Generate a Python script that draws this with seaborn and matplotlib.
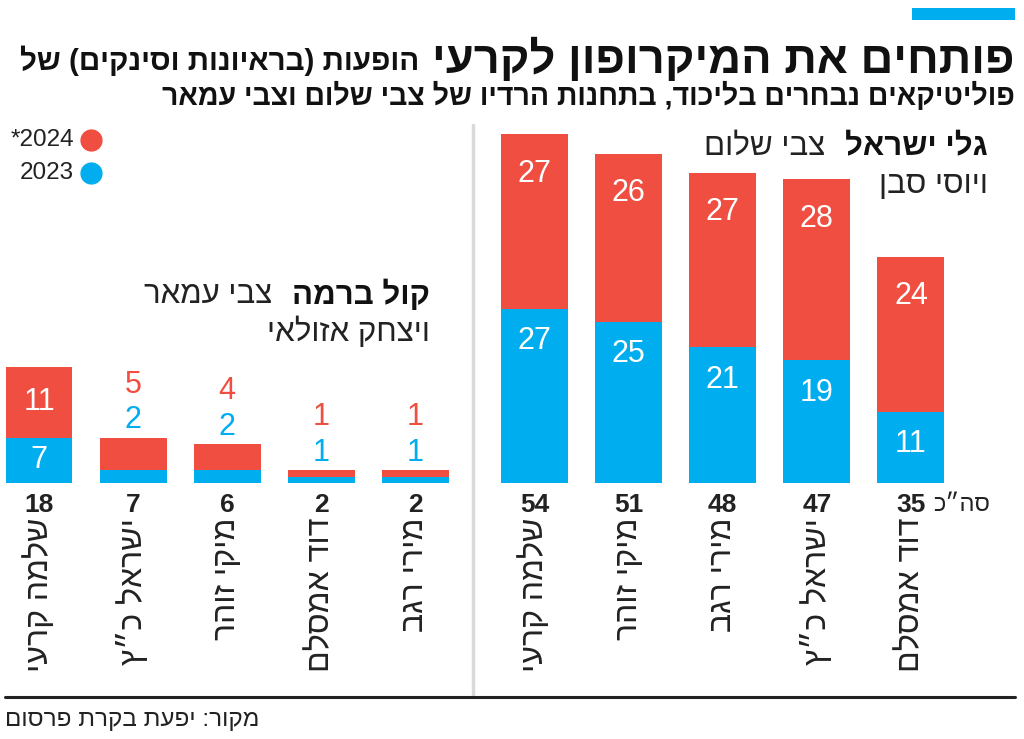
import re
import matplotlib
matplotlib.use("Agg")
import matplotlib.pyplot as plt
from matplotlib.lines import Line2D
from matplotlib.patches import Rectangle
import pandas as pd
import seaborn as sns

RED = "#EF4E40"
BLUE = "#00AEEF"

# right panel - גלי ישראל, bars left to right as in the picture
gali_names = ["שלמה קרעי", "מיקי זוהר", "מירי רגב", "ישראל כ״ץ", "דוד אמסלם"]
gali_2023 = [27, 25, 21, 19, 11]
gali_2024 = [27, 26, 27, 28, 24]

# left panel - קול ברמה
kol_names = ["שלמה קרעי", "ישראל כ״ץ", "מיקי זוהר", "דוד אמסלם", "מירי רגב"]
kol_2023 = [7, 2, 2, 1, 1]
kol_2024 = [11, 5, 4, 1, 1]

title_big = "פותחים את המיקרופון לקרעי"
title_small = "הופעות (בראיונות וסינקים) של"
subtitle = "פוליטיקאים נבחרים בליכוד, בתחנות הרדיו של צבי שלום וצבי עמאר"
source = "מקור: יפעת בקרת פרסום"


def heb(s):
    # no bidi in matplotlib -> flip to visual order, digit runs stay as is
    parts = re.findall(r"\d+|\D", s)
    return "".join(reversed(parts)).translate(str.maketrans("()", ")("))


sns.set_theme(style="white")
plt.rcParams["font.family"] = ["Liberation Sans", "DejaVu Sans"]

W, H = 1024, 739
fig = plt.figure(figsize=(W / 100, H / 100), dpi=100)


def fx(px):
    return px / W


def fy(py):
    return 1 - py / H


def fit(t, target_px):
    r = fig.canvas.get_renderer()
    w = t.get_window_extent(r).width
    t.set_fontsize(t.get_fontsize() * target_px / w)


def left_edge(t):
    r = fig.canvas.get_renderer()
    return t.get_window_extent(r).x0


PX_UNIT = 6.46
YMAX = 56
STEP = 94.1


def panel(left_px, xmin, names, v23, v24):
    ax = fig.add_axes([fx(left_px), fy(483), (4.5 - xmin) * STEP / W, YMAX * PX_UNIT / H])
    df = pd.DataFrame({"name": [heb(n) for n in names], "y2023": v23, "y2024": v24})
    df["total"] = df["y2023"] + df["y2024"]
    sns.barplot(data=df, x="name", y="total", color=RED, saturation=1, width=0.712,
                linewidth=0, ax=ax)
    sns.barplot(data=df, x="name", y="y2023", color=BLUE, saturation=1, width=0.712,
                linewidth=0, ax=ax)
    ax.set_xlim(xmin, 4.5)
    ax.set_ylim(0, YMAX)
    ax.axis("off")

    for i, row in df.iterrows():
        if row["total"] >= 10:
            yb = max(row["y2023"] - 5, row["y2023"] / 2)
            yr = max(row["total"] - 6.1, row["y2023"] + row["y2024"] / 2)
            ax.text(i, yb, str(row["y2023"]), color="white", fontsize=22, ha="center", va="center")
            ax.text(i, yr, str(row["y2024"]), color="white", fontsize=22, ha="center", va="center")
        else:
            ax.text(i, row["total"] + 2.7, str(row["y2023"]), color=BLUE, fontsize=22,
                    ha="center", va="center")
            ax.text(i, row["total"] + 8.2, str(row["y2024"]), color=RED, fontsize=22,
                    ha="center", va="center")
        ax.text(i, -3.4, str(row["total"]), color="#222222", fontsize=19, fontweight="bold",
                ha="center", va="center")
        ax.text(i, -5.4, row["name"], color="#222222", fontsize=23, rotation=90,
                ha="center", va="top")
    return ax


panel(487.5, -0.5, gali_names, gali_2023, gali_2024)
panel(0, -39 / STEP, kol_names, kol_2023, kol_2024)

fig.text(fx(990), fy(505), heb("סה״כ"), ha="right", va="center", fontsize=17, color="#222222")

# header
fig.add_artist(Rectangle((fx(912), fy(20)), fx(103), 12 / H, transform=fig.transFigure,
                         color=BLUE, lw=0))
t1 = fig.text(fx(1015), fy(73), heb(title_big), ha="right", va="baseline", fontsize=34,
              fontweight="bold", color="#111111")
t2 = fig.text(fx(20), fy(70), heb(title_small), ha="left", va="baseline", fontsize=22,
              fontweight="bold", color="#111111")
t3 = fig.text(fx(1015), fy(105), heb(subtitle), ha="right", va="baseline", fontsize=20,
              fontweight="bold", color="#111111")
fit(t1, 583)
fit(t2, 400)
fit(t3, 855)

# legend
for py, c, lab in [(140, RED, "2024*"), (173, BLUE, "2023")]:
    fig.add_artist(Line2D([fx(90.7)], [fy(py)], marker="o", ms=15, color=c, lw=0,
                          transform=fig.transFigure))
    fig.text(fx(74), fy(py), heb(lab), ha="right", va="center", fontsize=17.5, color="#222222")

# panel titles
for right, py1, py2, bold, reg, line2 in [(988, 147, 185, "גלי ישראל", "צבי שלום", "ויוסי סבן"),
                                          (430, 295, 332, "קול ברמה", "צבי עמאר", "ויצחק אזולאי")]:
    tb = fig.text(fx(right), fy(py1), heb(bold), ha="right", va="center", fontsize=22.5,
                  fontweight="bold", color="#111111")
    fig.canvas.draw()
    x0 = left_edge(tb)
    fig.text((x0 - 20) / W, fy(py1), heb(reg), ha="right", va="center", fontsize=22.5,
             color="#222222")
    fig.text(fx(right), fy(py2), heb(line2), ha="right", va="center", fontsize=22.5,
             color="#222222")

# separator and bottom rule
fig.add_artist(Line2D([fx(473), fx(473)], [fy(125), fy(697)], color="#d9d9d9", lw=2.5,
                      transform=fig.transFigure))
fig.add_artist(Line2D([fx(5), fx(1015)], [fy(697), fy(697)], color="#222222", lw=2.2,
                      transform=fig.transFigure))
fig.text(fx(5), fy(720), heb(source), ha="left", va="center", fontsize=17.5, color="#222222")

fig.savefig("out.png", dpi=100)
